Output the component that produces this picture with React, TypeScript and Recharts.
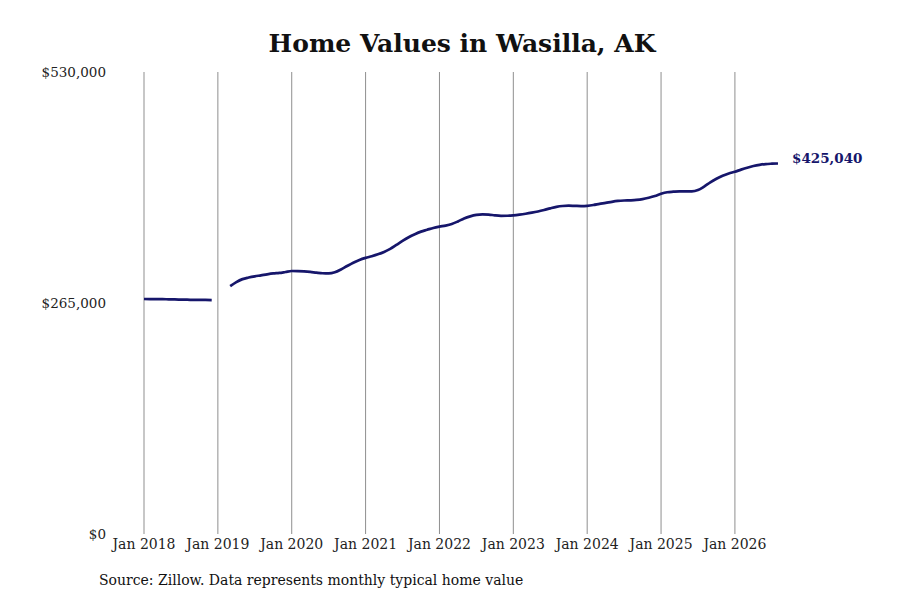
import React from 'react';
import { LineChart, Line, XAxis, YAxis, ReferenceLine } from 'recharts';

const monthNames = ['Jan', 'Feb', 'Mar', 'Apr', 'May', 'Jun', 'Jul', 'Aug', 'Sep', 'Oct', 'Nov', 'Dec'];

// typical home value by month, Jan 2018 - Aug 2026 (null = no data)
const homeValues: (number | null)[] = [
  269600, 269500, 269400, 269400, 269200, 269100, 268900, 268800, 268600, 268500, 268500, 268400,
  null, null, 284300, 289000, 292400, 294200, 295600, 296700, 297900, 298900, 299500, 300600,
  301700, 301600, 301200, 300600, 299800, 299100, 298900, 300200, 303400, 307400, 311200, 314400,
  316800, 318700, 320900, 323600, 327100, 331600, 336200, 340400, 343900, 346900, 349000, 351100,
  352600, 353800, 355600, 358600, 362000, 364400, 366000, 366600, 366400, 365500, 365000, 365100,
  365600, 366400, 367400, 368600, 370000, 371700, 373600, 375300, 376300, 376600, 376400, 376200,
  376500, 377400, 378700, 379800, 381100, 382100, 382600, 382800, 383200, 384100, 385700, 387700,
  390300, 392100, 392700, 393100, 393000, 393000, 394500, 398600, 403500, 407600, 410900, 413500,
  415600, 418000, 420200, 422100, 423500, 424400, 424800, 425040,
];

const xTicks = ['Jan 2018', 'Jan 2019', 'Jan 2020', 'Jan 2021', 'Jan 2022', 'Jan 2023', 'Jan 2024', 'Jan 2025', 'Jan 2026'];
const yTicks = [0, 265000, 530000];

const data = homeValues.map((value, i) => ({
  i,
  month: `${monthNames[i % 12]} ${2018 + Math.floor(i / 12)}`,
  value,
}));

const tickIndex = xTicks.map((t) => data.findIndex((d) => d.month === t));

const FONT = '"DejaVu Serif", serif';
const NAVY = '#16166b';

const fmt = (v: number) => '$' + v.toLocaleString('en-US');

const EndLabel = (props: any) => {
  const { x, y, index } = props;
  if (index !== data.length - 1) return null;
  return (
    <text x={x + 14} y={y - 5} dy="0.35em" fontFamily={FONT} fontSize={13.5} fontWeight="bold" fill={NAVY}>
      {fmt(homeValues[index] as number)}
    </text>
  );
};

export default function App() {
  return (
    <div style={{ position: 'absolute', left: 0, top: 0, width: 900, height: 600, background: '#fff', fontFamily: FONT }}>
      <div style={{ position: 'absolute', top: 29, width: 924, textAlign: 'center', fontSize: 25, fontWeight: 'bold', color: '#111' }}>
        Home Values in Wasilla, AK
      </div>
      <LineChart width={900} height={600} data={data} margin={{ top: 72, right: 122, bottom: 36, left: 44 }}>
        <XAxis
          dataKey="i"
          type="number"
          domain={[0, data.length - 1]}
          ticks={tickIndex}
          interval={0}
          axisLine={false}
          tickLine={false}
          tickSize={0}
          tickMargin={5}
          height={30}
          tickFormatter={(v: number) => data[v].month}
          tick={{ fontFamily: FONT, fontSize: 14, fill: '#222' }}
        />
        <YAxis
          domain={[0, 530000]}
          ticks={yTicks}
          interval={0}
          axisLine={false}
          tickLine={false}
          tickSize={0}
          tickMargin={38}
          width={100}
          tickFormatter={fmt}
          tick={{ fontFamily: FONT, fontSize: 13.5, fill: '#222' }}
        />
        {tickIndex.map((t) => (
          <ReferenceLine key={t} x={t} stroke="#8f8f8f" />
        ))}
        <Line
          type="monotone"
          dataKey="value"
          stroke={NAVY}
          strokeWidth={2.7}
          dot={false}
          connectNulls={false}
          isAnimationActive={false}
          label={<EndLabel />}
        />
      </LineChart>
      <div style={{ position: 'absolute', left: 99, top: 572, fontSize: 14, color: '#111' }}>
        Source: Zillow. Data represents monthly typical home value
      </div>
    </div>
  );
}
